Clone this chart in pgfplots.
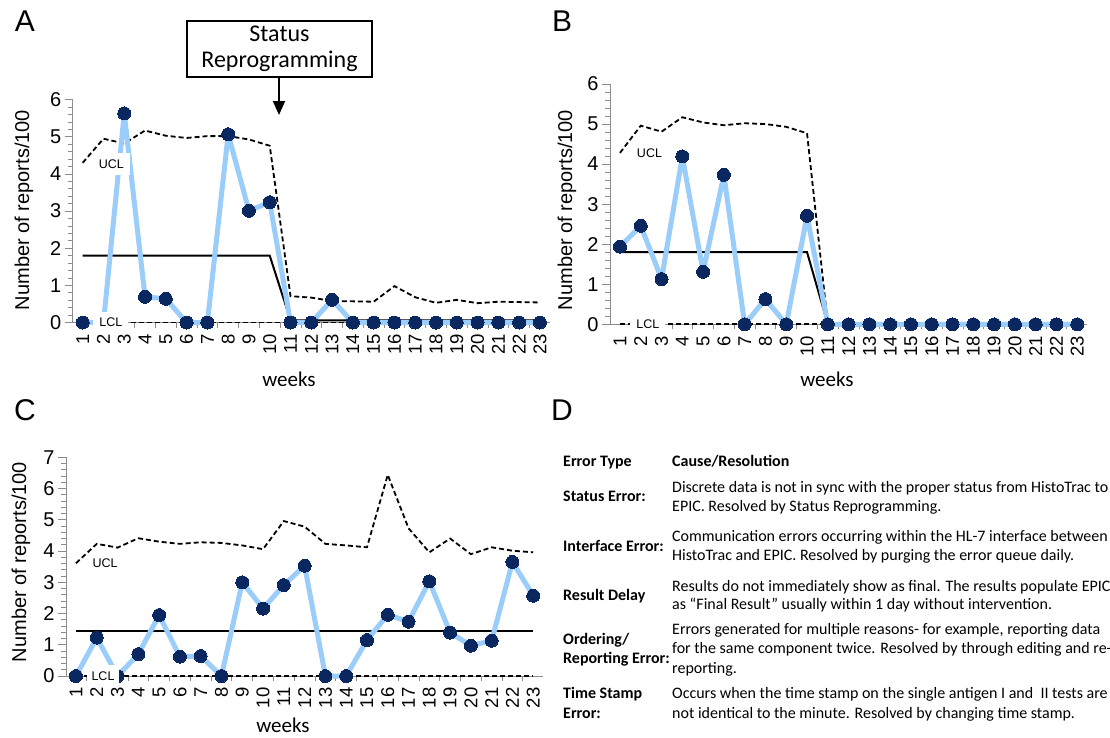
\documentclass[border=0pt]{standalone}
\usepackage{fontspec}
\setmainfont{Liberation Sans}
\newfontfamily\calibri{Carlito}
\usepackage{pgfplots}
\pgfplotsset{compat=1.18}
\usetikzlibrary{arrows.meta}
\definecolor{navy}{RGB}{10,40,95}
\definecolor{lblue}{RGB}{155,205,250}
\definecolor{axgray}{RGB}{140,140,140}
\pgfplotsset{
 ctrl/.style={
  scale only axis, width=477pt,
  xmin=0.52, xmax=23.47, ymin=0,
  axis x line*=bottom, axis y line*=left,
  axis line style={axgray, line width=0.8pt},
  xtick={1,...,23},
  minor xtick={1.5,2.5,...,22.5},
  major x tick style={draw=none},
  x tick label style={rotate=90, anchor=east, font=\fontsize{18.5}{18.5}\selectfont},
  y tick label style={font=\fontsize{20}{20}\selectfont},
  tick style={axgray, line width=0.8pt},
  tick align=outside,
  major tick length=8pt, minor tick length=5pt,
  minor y tick num=4,
  /pgf/number format/assume math mode=true,
  clip=false,
 },
 dat/.style={lblue, line width=5pt, line join=round, mark=*, mark size=6.5pt, mark options={fill=navy, draw=navy, line width=0pt}},
 lim/.style={black, line width=1.8pt, dash pattern=on 5pt off 3pt, mark=none},
 cl/.style={black, line width=2pt, mark=none},
}
\tikzset{lbl/.style={fill=white, inner xsep=6pt, inner ysep=5pt, minimum height=22pt, font=\fontsize{12.5}{12.5}\selectfont}}
\begin{document}
\begin{tikzpicture}[x=1pt,y=1pt]
\useasboundingbox (0,0) rectangle (1110,-737);

% ---------------- A ----------------
\begin{axis}[ctrl, height=222.8pt, ymax=6, ytick={0,...,6}, at={(72.7pt,-322.5pt)}, anchor=south west]
\addplot[lim] coordinates {(1,4.30) (2,4.95) (3,4.82) (4,5.17) (5,5.03) (6,4.97) (7,5.02) (8,5.02) (9,4.93) (10,4.76) (11,0.71) (12,0.67) (13,0.58) (14,0.57) (15,0.56) (16,0.98) (17,0.68) (18,0.53) (19,0.61) (20,0.52) (21,0.56) (22,0.55) (23,0.54)};
\addplot[cl] coordinates {(1,1.8) (10,1.8) (11,0.06) (23,0.06)};
\addplot[lim] coordinates {(1,0) (23,0)};
\addplot[dat] coordinates {(1,0) (2,0) (3,5.63) (4,0.69) (5,0.64) (6,0) (7,0) (8,5.07) (9,3.01) (10,3.24) (11,0) (12,0) (13,0.61) (14,0) (15,0) (16,0) (17,0) (18,0) (19,0) (20,0) (21,0) (22,0) (23,0)};
\coordinate (uA) at (axis cs:2.38,4.27);
\coordinate (lA) at (axis cs:2.36,0);
\end{axis}
\node[lbl] at (uA) {UCL};
\node[lbl] at (lA) {LCL};

% ---------------- B ----------------
\begin{axis}[ctrl, height=240.3pt, ymax=6, ytick={0,...,6}, at={(610pt,-324.3pt)}, anchor=south west]
\addplot[lim] coordinates {(1,4.28) (2,4.96) (3,4.81) (4,5.17) (5,5.04) (6,4.97) (7,5.02) (8,5.00) (9,4.93) (10,4.77) (11,0) (23,0)};
\addplot[cl] coordinates {(1,1.8) (10,1.8) (11,0) (23,0)};
\addplot[lim] coordinates {(1,0) (23,0)};
\addplot[dat] coordinates {(1,1.94) (2,2.46) (3,1.13) (4,4.19) (5,1.31) (6,3.73) (7,0) (8,0.63) (9,0) (10,2.71) (11,0) (12,0) (13,0) (14,0) (15,0) (16,0) (17,0) (18,0) (19,0) (20,0) (21,0) (22,0) (23,0)};
\coordinate (uB) at (axis cs:2.42,4.28);
\coordinate (lB) at (axis cs:2.34,0);
\end{axis}
\node[lbl] at (uB) {UCL};
\node[lbl] at (lB) {LCL};

% ---------------- C ----------------
\begin{axis}[ctrl, height=218.7pt, ymax=7, ytick={0,...,7}, at={(66pt,-676pt)}, anchor=south west]
\addplot[lim] coordinates {(1,3.61) (2,4.23) (3,4.11) (4,4.41) (5,4.30) (6,4.23) (7,4.28) (8,4.26) (9,4.18) (10,4.06) (11,4.96) (12,4.78) (13,4.23) (14,4.18) (15,4.12) (16,6.44) (17,4.73) (18,3.96) (19,4.40) (20,3.90) (21,4.12) (22,4.01) (23,3.96)};
\addplot[cl] coordinates {(1,1.43) (23,1.43)};
\addplot[lim] coordinates {(1,0) (23,0)};
\addplot[dat] coordinates {(1,0) (2,1.23) (3,0) (4,0.70) (5,1.95) (6,0.62) (7,0.64) (8,0) (9,3.00) (10,2.16) (11,2.91) (12,3.53) (13,0) (14,0) (15,1.15) (16,1.96) (17,1.74) (18,3.03) (19,1.39) (20,0.97) (21,1.13) (22,3.65) (23,2.57)};
\coordinate (uC) at (axis cs:2.40,3.61);
\coordinate (lC) at (axis cs:2.30,0);
\end{axis}
\node[lbl, fill=none] at (uC) {UCL};
\node[lbl, inner xsep=5pt] at (lC) {LCL};

% ---------------- labels ----------------
\node[font=\fontsize{30}{30}\selectfont] at (25,-21) {A};
\node[font=\fontsize{30}{30}\selectfont] at (562,-21) {B};
\node[font=\fontsize{30}{30}\selectfont] at (25,-410) {C};
\node[font=\fontsize{30}{30}\selectfont] at (562,-410) {D};

\node[rotate=90, font=\fontsize{20}{20}\selectfont] at (24,-210) {Number of reports/100};
\node[rotate=90, font=\fontsize{20}{20}\selectfont] at (567,-210) {Number of reports/100};
\node[rotate=90, font=\fontsize{20}{20}\selectfont] at (21,-562) {Number of reports/100};

\node[font=\calibri\fontsize{21}{21}\selectfont] at (289,-379) {weeks};
\node[font=\calibri\fontsize{21}{21}\selectfont] at (827,-379) {weeks};
\node[font=\calibri\fontsize{21}{21}\selectfont] at (283,-725) {weeks};

\node[draw, line width=1.2pt, minimum width=185pt, minimum height=56pt, align=center, inner sep=0pt, font=\calibri\fontsize{24}{26}\selectfont] at (279.5,-49) {Status\\Reprogramming};
\draw[line width=2pt, -{Triangle[width=12pt,length=14pt]}] (279,-77) -- (279,-115);

% ---------------- panel D ----------------
\begin{scope}[every node/.style={anchor=base west, inner sep=0pt, font=\calibri\fontsize{16}{19}\selectfont}]
\node at (563,-466) {\bfseries Error Type};
\node at (672,-466) {\bfseries Cause/Resolution};
\node at (563,-501) {\bfseries Status Error:};
\node at (672,-492) {Discrete data is not in sync with the proper status from HistoTrac to};
\node at (672,-511) {EPIC. Resolved by Status Reprogramming.};
\node at (563,-551) {\bfseries Interface Error:};
\node at (672,-541) {Communication errors occurring within the HL-7 interface between};
\node at (672,-560) {HistoTrac and EPIC. Resolved by purging the error queue daily.};
\node at (563,-600) {\bfseries Result Delay};
\node at (672,-591) {Results do not immediately show as final. The results populate EPIC};
\node at (672,-609) {as “Final Result” usually within 1 day without intervention.};
\node at (563,-644) {\bfseries Ordering/};
\node at (563,-663) {\bfseries Reporting Error:};
\node at (672,-634) {Errors generated for multiple reasons- for example, reporting data};
\node at (672,-653) {for the same component twice. Resolved by through editing and re-};
\node at (672,-673) {reporting.};
\node at (563,-698) {\bfseries Time Stamp};
\node at (563,-718) {\bfseries Error:};
\node at (672,-698) {Occurs when the time stamp on the single antigen I and~ II tests are};
\node at (672,-718) {not identical to the minute. Resolved by changing time stamp.};
\end{scope}
\end{tikzpicture}
\end{document}
